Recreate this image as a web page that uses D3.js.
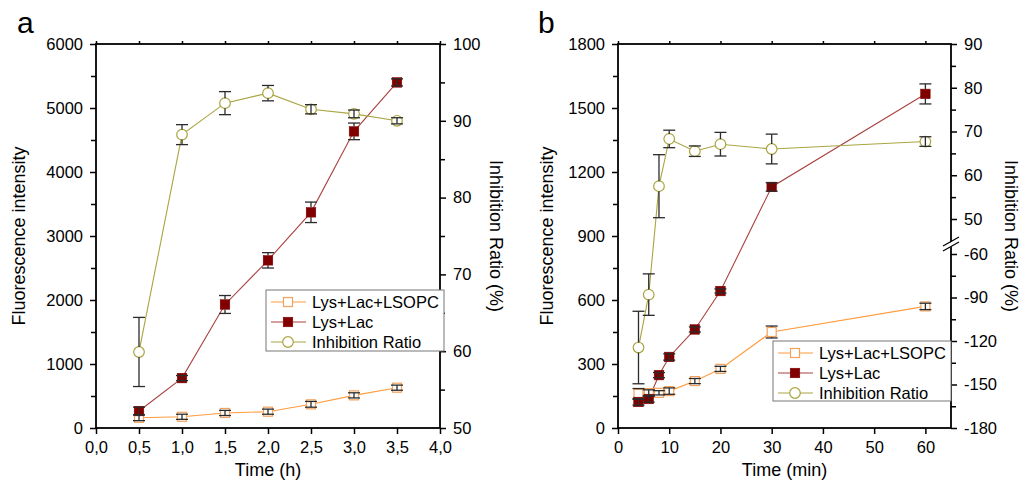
<!DOCTYPE html>
<meta charset="utf-8">
<script src="https://cdn.jsdelivr.net/npm/d3@7/dist/d3.min.js"></script>
<style>
    body { margin: 0; background: #fff; }
    svg { font-family: "Liberation Sans", Arial, sans-serif; }
    .axis path, .axis line { stroke: #000; }
    .axis text { font-size: 16.5px; fill: #000; font-family: "Liberation Sans", Arial, sans-serif; }
</style>
<svg width="1026" height="482"></svg>
<script>

    // ---- panel a data (time in hours)
    var timeH = [0.5, 1.0, 1.5, 2.0, 2.5, 3.0, 3.5];
    var aLsopc = [160, 175, 235, 255, 370, 510, 630];
    var aLsopcErr = [45, 40, 40, 40, 45, 40, 40];
    var aLysLac = [265, 780, 1930, 2620, 3370, 4635, 5400];
    var aLysLacErr = [60, 40, 140, 120, 160, 130, 55];
    var aInhib = [59.9, 88.2, 92.3, 93.6, 91.5, 90.9, 90.0];
    var aInhibErr = [4.5, 1.3, 1.5, 1.0, 0.6, 0.5, 0.4];

    // ---- panel b data (time in minutes)
    var timeMin = [4, 6, 8, 10, 15, 20, 30, 60];
    var bLsopc = [160, 164, 165, 173, 220, 277, 450, 570];
    var bLsopcErr = [25, 15, 10, 15, 12, 12, 28, 15];
    var bLysLac = [122, 136, 248, 333, 462, 642, 1130, 1566];
    var bLysLacErr = [15, 15, 12, 15, 12, 10, 20, 47];
    var bInhib = [-124.5, -88, 57.5, 68.3, 65.5, 67.1, 66.0, 67.7];
    var bInhibErr = [25, 14.3, 7.2, 2.0, 1.2, 2.7, 3.4, 1.1];

    var legendNames = ["Lys+Lac+LSOPC", "Lys+Lac", "Inhibition Ratio"];

    var svg = d3.select("svg");

    var col = {
        lsopcLine: "#FF9B3D", lsopcMark: "#F2A25C",
        lysLine: "#A8423F", lysMark: "#800000",
        inhLine: "#A9A540", inhMark: "#A9A540",
        err: "#2b2b2b"
    };

    var commaFmt = function (d) { return d3.format(".1f")(d).replace(".", ","); };
    var intFmt = function (d) { return String(Math.round(d)); };   // plain hyphen minus, no grouping

    function tidy(s) {
        s.select(".domain").remove();
        s.selectAll("line").attr("stroke-width", 1.5);
    }

    function drawFrame(box, xS, yL, yR, opt) {
        var g = svg.append("g");
        // bottom
        g.append("g").attr("class", "axis").attr("transform", "translate(0," + box.y1 + ")")
            .call(d3.axisBottom(xS).tickValues(opt.xTicks).tickSize(6).tickPadding(7).tickFormat(opt.xFmt))
            .call(tidy);
        // top
        g.append("g").attr("class", "axis").attr("transform", "translate(0," + box.y0 + ")")
            .call(d3.axisTop(xS).tickValues(opt.xTicks).tickSize(3).tickFormat(""))
            .call(tidy);
        // left
        g.append("g").attr("class", "axis").attr("transform", "translate(" + box.x0 + ",0)")
            .call(d3.axisLeft(yL).tickValues(opt.yMinor).tickSize(5).tickFormat(""))
            .call(tidy);
        g.append("g").attr("class", "axis").attr("transform", "translate(" + box.x0 + ",0)")
            .call(d3.axisLeft(yL).tickValues(opt.yMajor).tickSize(6).tickPadding(7).tickFormat(intFmt))
            .call(tidy);
        // right
        g.append("g").attr("class", "axis").attr("transform", "translate(" + box.x1 + ",0)")
            .call(d3.axisRight(yR).tickValues(opt.rMinor).tickSize(5).tickFormat(""))
            .call(tidy);
        g.append("g").attr("class", "axis").attr("transform", "translate(" + box.x1 + ",0)")
            .call(d3.axisRight(yR).tickValues(opt.rMajor).tickSize(6).tickPadding(7).tickFormat(intFmt))
            .call(tidy);
        // frame
        g.append("rect").attr("x", box.x0).attr("y", box.y0)
            .attr("width", box.x1 - box.x0).attr("height", box.y1 - box.y0)
            .attr("fill", "none").attr("stroke", "#000").attr("stroke-width", 1.8);
        return g;
    }

    function drawSeries(g, xs, ys, errs, xS, yS, lineColor, shape) {
        var pts = xs.map(function (x, i) { return [xS(x), yS(ys[i])]; });
        g.append("path").attr("d", d3.line()(pts))
            .attr("fill", "none").attr("stroke", lineColor).attr("stroke-width", 1.1);
        return { pts: pts, xs: xs, ys: ys, errs: errs, xS: xS, yS: yS, shape: shape };
    }

    function drawMarkers(g, s) {
        s.pts.forEach(function (p) { marker(g, p[0], p[1], s.shape); });
    }

    function marker(g, x, y, shape) {
        if (shape === "sqOpen") {
            g.append("rect").attr("x", x - 4.5).attr("y", y - 4.5).attr("width", 9).attr("height", 9)
                .attr("fill", "#fff").attr("stroke", col.lsopcMark).attr("stroke-width", 1.2);
        } else if (shape === "sqFill") {
            g.append("rect").attr("x", x - 4.8).attr("y", y - 4.8).attr("width", 9.6).attr("height", 9.6)
                .attr("fill", col.lysMark).attr("stroke", col.lysMark).attr("stroke-width", 0.5);
        } else {
            g.append("circle").attr("cx", x).attr("cy", y).attr("r", 5.3)
                .attr("fill", "#fff").attr("stroke", col.inhMark).attr("stroke-width", 1.2);
        }
    }

    function drawErrors(g, s) {
        var r = 5;
        s.xs.forEach(function (x, i) {
            var cx = s.xS(x), cy = s.yS(s.ys[i]);
            var yt = s.yS(s.ys[i] + s.errs[i]), yb = s.yS(s.ys[i] - s.errs[i]);
            var segs = (cy - yt > r) ? [[yt, cy - r], [cy + r, yb]] : [[yt, yb]];
            segs.forEach(function (sg) {
                g.append("line").attr("x1", cx).attr("x2", cx).attr("y1", sg[0]).attr("y2", sg[1])
                    .attr("stroke", col.err).attr("stroke-width", 1.3);
            });
            [yt, yb].forEach(function (yy) {
                g.append("line").attr("x1", cx - 6).attr("x2", cx + 6).attr("y1", yy).attr("y2", yy)
                    .attr("stroke", col.err).attr("stroke-width", 1.3);
            });
        });
    }

    function drawLegend(box, rowGap) {
        var g = svg.append("g");
        g.append("rect").attr("x", box.x).attr("y", box.y).attr("width", box.w).attr("height", box.h)
            .attr("fill", "#fff").attr("stroke", "#777").attr("stroke-width", 1);
        var lc = [col.lsopcLine, col.lysLine, col.inhLine];
        var sh = ["sqOpen", "sqFill", "circle"];
        legendNames.forEach(function (name, i) {
            var y = box.y + 12 + i * rowGap;
            g.append("line").attr("x1", box.x + 5).attr("x2", box.x + 40).attr("y1", y).attr("y2", y)
                .attr("stroke", lc[i]).attr("stroke-width", 1.1);
            marker(g, box.x + 22, y, sh[i]);
            g.append("text").attr("x", box.x + 46).attr("y", y + 6).attr("font-size", 16.5).text(name);
        });
    }

    // ================= panel a =================
    var A = { x0: 96, x1: 440, y0: 44, y1: 428 };
    var xa = d3.scaleLinear().domain([0, 4]).range([A.x0, A.x1]);
    var yaL = d3.scaleLinear().domain([0, 6000]).range([A.y1, A.y0]);
    var yaR = d3.scaleLinear().domain([50, 100]).range([A.y1, A.y0]);

    drawFrame(A, xa, yaL, yaR, {
        xTicks: d3.range(0, 4.01, 0.5), xFmt: commaFmt,
        yMajor: d3.range(0, 6001, 1000), yMinor: d3.range(500, 6000, 1000),
        rMajor: d3.range(50, 101, 10), rMinor: d3.range(55, 100, 10)
    });

    var ga = svg.append("g");
    var sa1 = drawSeries(ga, timeH, aLsopc, aLsopcErr, xa, yaL, col.lsopcLine, "sqOpen");
    var sa2 = drawSeries(ga, timeH, aLysLac, aLysLacErr, xa, yaL, col.lysLine, "sqFill");
    var sa3 = drawSeries(ga, timeH, aInhib, aInhibErr, xa, yaR, col.inhLine, "circle");
    [sa1, sa2, sa3].forEach(function (s) { drawMarkers(ga, s); });
    [sa1, sa2, sa3].forEach(function (s) { drawErrors(ga, s); });

    drawLegend({ x: 266, y: 290, w: 178, h: 61 }, 20);

    svg.append("text").attr("x", 17).attr("y", 33).attr("font-size", 30).text("a");
    svg.append("text").attr("x", (A.x0 + A.x1) / 2).attr("y", 476).attr("text-anchor", "middle")
        .attr("font-size", 18).text("Time (h)");
    svg.append("text").attr("transform", "translate(25," + ((A.y0 + A.y1) / 2) + ") rotate(-90)")
        .attr("text-anchor", "middle").attr("font-size", 18).text("Fluorescence intensity");
    svg.append("text").attr("transform", "translate(490," + ((A.y0 + A.y1) / 2) + ") rotate(90)")
        .attr("text-anchor", "middle").attr("font-size", 18).text("Inhibition Ratio (%)");

    // ================= panel b =================
    var B = { x0: 618, x1: 951, y0: 44, y1: 428 };
    var xb = d3.scaleLinear().domain([0, 65]).range([B.x0, B.x1]);
    var ybL = d3.scaleLinear().domain([0, 1800]).range([B.y1, B.y0]);
    // broken right axis: -180..-60 below the break, 50..90 above
    var ybR = d3.scaleLinear().domain([-180, -60, 50, 90]).range([B.y1, 254, 219, B.y0]);

    drawFrame(B, xb, ybL, ybR, {
        xTicks: d3.range(0, 61, 10), xFmt: intFmt,
        yMajor: d3.range(0, 1801, 300), yMinor: d3.range(150, 1800, 300),
        rMajor: d3.range(-180, -59, 30).concat(d3.range(50, 91, 10)),
        rMinor: [-165, -135, -105, -75, 55, 65, 75, 85]
    });

    // break marks on right axis
    var brk = svg.append("g");
    brk.append("polygon").attr("points", [[944, 246], [958, 238], [958, 243], [944, 251]].join(" "))
        .attr("fill", "#fff");
    brk.append("line").attr("x1", 943).attr("y1", 246).attr("x2", 959).attr("y2", 237)
        .attr("stroke", "#000").attr("stroke-width", 1.3);
    brk.append("line").attr("x1", 943).attr("y1", 251).attr("x2", 959).attr("y2", 242)
        .attr("stroke", "#000").attr("stroke-width", 1.3);

    var gb = svg.append("g");
    var sb1 = drawSeries(gb, timeMin, bLsopc, bLsopcErr, xb, ybL, col.lsopcLine, "sqOpen");
    var sb2 = drawSeries(gb, timeMin, bLysLac, bLysLacErr, xb, ybL, col.lysLine, "sqFill");
    var sb3 = drawSeries(gb, timeMin, bInhib, bInhibErr, xb, ybR, col.inhLine, "circle");
    [sb1, sb2, sb3].forEach(function (s) { drawMarkers(gb, s); });
    [sb1, sb2, sb3].forEach(function (s) { drawErrors(gb, s); });

    drawLegend({ x: 773, y: 341, w: 178, h: 60 }, 20);

    svg.append("text").attr("x", 538).attr("y", 33).attr("font-size", 30).text("b");
    svg.append("text").attr("x", (B.x0 + B.x1) / 2).attr("y", 476).attr("text-anchor", "middle")
        .attr("font-size", 18).text("Time (min)");
    svg.append("text").attr("transform", "translate(553," + ((B.y0 + B.y1) / 2) + ") rotate(-90)")
        .attr("text-anchor", "middle").attr("font-size", 18).text("Fluorescence intensity");
    svg.append("text").attr("transform", "translate(1005," + ((B.y0 + B.y1) / 2) + ") rotate(90)")
        .attr("text-anchor", "middle").attr("font-size", 18).text("Inhibition Ratio (%)");

</script>
